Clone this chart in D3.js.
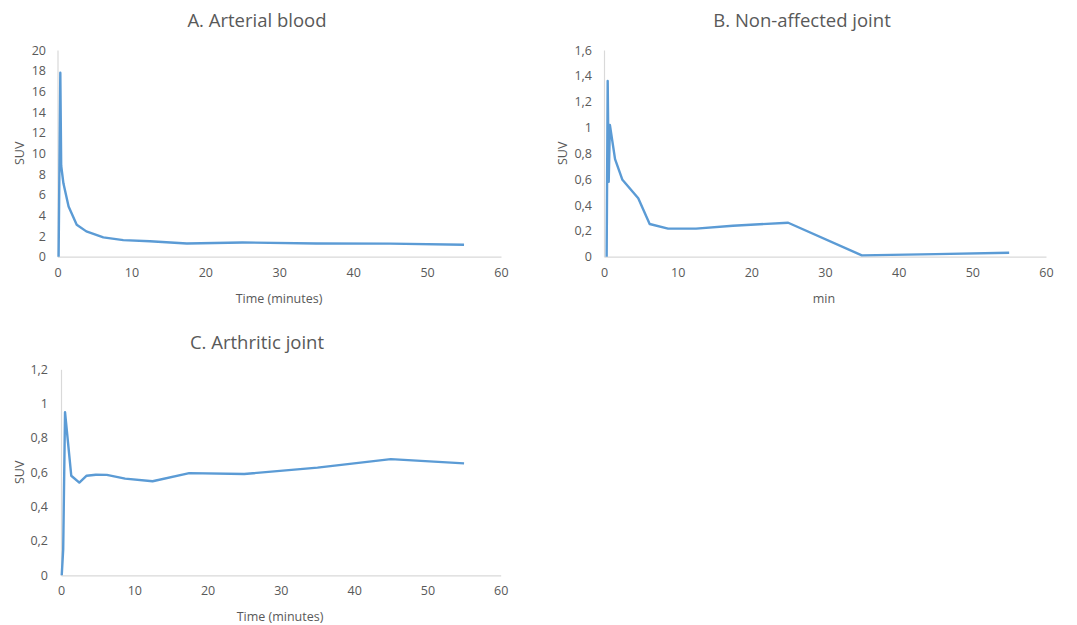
<!DOCTYPE html>
<html>
<head>
<meta charset="utf-8">
<script src="https://cdn.jsdelivr.net/npm/d3@7"></script>
<style>
  body { margin: 0; background: #fff; }
  svg text { font-family: "Open Sans", "Noto Sans", sans-serif; fill: #595959; }
</style>
</head>
<body>
<svg id="chart" width="1077" height="625"></svg>
<script>
// Panel A - arterial blood
const timeA = [0.15, 0.38, 0.5, 0.8, 1.5, 2.6, 3.9, 6.2, 8.9, 12.5, 17.5, 25, 35, 45, 55];
const suvA  = [0, 17.8, 8.8, 7.1, 4.85, 3.1, 2.45, 1.87, 1.6, 1.5, 1.28, 1.38, 1.28, 1.27, 1.15];

// Panel B - non-affected joint
const timeB = [0.36, 0.5, 0.64, 0.8, 1.5, 2.5, 4.65, 6.2, 8.7, 12.5, 17.5, 25, 35, 45, 55];
const suvB  = [0, 1.36, 0.58, 1.02, 0.755, 0.595, 0.452, 0.253, 0.217, 0.217, 0.24, 0.263, 0.01, 0.02, 0.03];

// Panel C - arthritic joint
const timeC = [0.1, 0.3, 0.55, 1.4, 2.5, 3.5, 4.75, 6.25, 8.75, 12.5, 17.5, 25, 35, 45, 55];
const suvC  = [0, 0.15, 0.95, 0.58, 0.54, 0.58, 0.586, 0.585, 0.563, 0.548, 0.595, 0.59, 0.627, 0.677, 0.652];

const xTicks = [0, 10, 20, 30, 40, 50, 60];
const yTicksA = [0, 2, 4, 6, 8, 10, 12, 14, 16, 18, 20];
const yTicksB = [0, 0.2, 0.4, 0.6, 0.8, 1, 1.2, 1.4, 1.6];
const yTicksC = [0, 0.2, 0.4, 0.6, 0.8, 1, 1.2];

const svg = d3.select("#chart");

// comma decimals like the original
const locale = d3.formatLocale({ decimal: ",", thousands: ".", grouping: [3], currency: ["", ""] });
const fmt = locale.format("~g");

function drawPanel(cfg) {
    const x = d3.scaleLinear().domain([0, 60]).range([cfg.left, cfg.right]);
    const y = d3.scaleLinear().domain([0, cfg.yMax]).range([cfg.bottom, cfg.top]);
    const g = svg.append("g");

    // title
    g.append("text")
        .attr("x", cfg.titleX)
        .attr("y", cfg.titleY)
        .attr("text-anchor", "middle")
        .style("font-size", "18.5px")
        .text(cfg.title);

    // x axis
    const xAxis = g.append("g")
        .attr("transform", `translate(0,${cfg.bottom})`)
        .call(d3.axisBottom(x).tickValues(xTicks).tickSize(0).tickPadding(11));
    xAxis.select(".domain").attr("stroke", "#d9d9d9").attr("stroke-width", 1.2);
    xAxis.selectAll("text").style("font-size", "12.5px").attr("fill", "#595959");

    // y axis
    const yAxis = g.append("g")
        .attr("transform", `translate(${cfg.left},0)`)
        .call(d3.axisLeft(y).tickValues(cfg.yTicks).tickFormat(fmt).tickSize(0).tickPadding(cfg.left - cfg.labelRight));
    yAxis.select(".domain").attr("stroke", "#d9d9d9").attr("stroke-width", 1.2);
    yAxis.selectAll("text").style("font-size", "12.5px").attr("fill", "#595959");

    // axis titles
    g.append("text")
        .attr("x", cfg.xLabelX)
        .attr("y", cfg.bottom + 46)
        .attr("text-anchor", "middle")
        .style("font-size", "12.5px")
        .text(cfg.xLabel);

    g.append("text")
        .attr("transform", `translate(${cfg.yLabelX},${(cfg.top + cfg.bottom) / 2}) rotate(-90)`)
        .attr("text-anchor", "middle")
        .style("font-size", "12.5px")
        .text("SUV");

    // series line
    const pts = cfg.times.map((t, i) => [t, cfg.values[i]]);
    g.append("path")
        .datum(pts)
        .attr("fill", "none")
        .attr("stroke", "#5b9bd5")
        .attr("stroke-width", 2.4)
        .attr("stroke-linejoin", "round")
        .attr("d", d3.line().x(d => x(d[0])).y(d => y(d[1])));
}

drawPanel({ title: "A. Arterial blood", times: timeA, values: suvA, yMax: 20, yTicks: yTicksA,
    left: 57.5, right: 501, top: 50, bottom: 256.7, labelRight: 46, yLabelX: 24,
    titleX: 257, titleY: 27, xLabelX: 279, xLabel: "Time (minutes)" });
drawPanel({ title: "B. Non-affected joint", times: timeB, values: suvB, yMax: 1.6, yTicks: yTicksB,
    left: 604, right: 1046, top: 50, bottom: 256.7, labelRight: 592, yLabelX: 567,
    titleX: 802, titleY: 27, xLabelX: 824, xLabel: "min" });
drawPanel({ title: "C. Arthritic joint", times: timeC, values: suvC, yMax: 1.2, yTicks: yTicksC,
    left: 61, right: 500.7, top: 369.3, bottom: 575.3, labelRight: 48, yLabelX: 24,
    titleX: 257, titleY: 349, xLabelX: 280, xLabel: "Time (minutes)" });
</script>
</body>
</html>
